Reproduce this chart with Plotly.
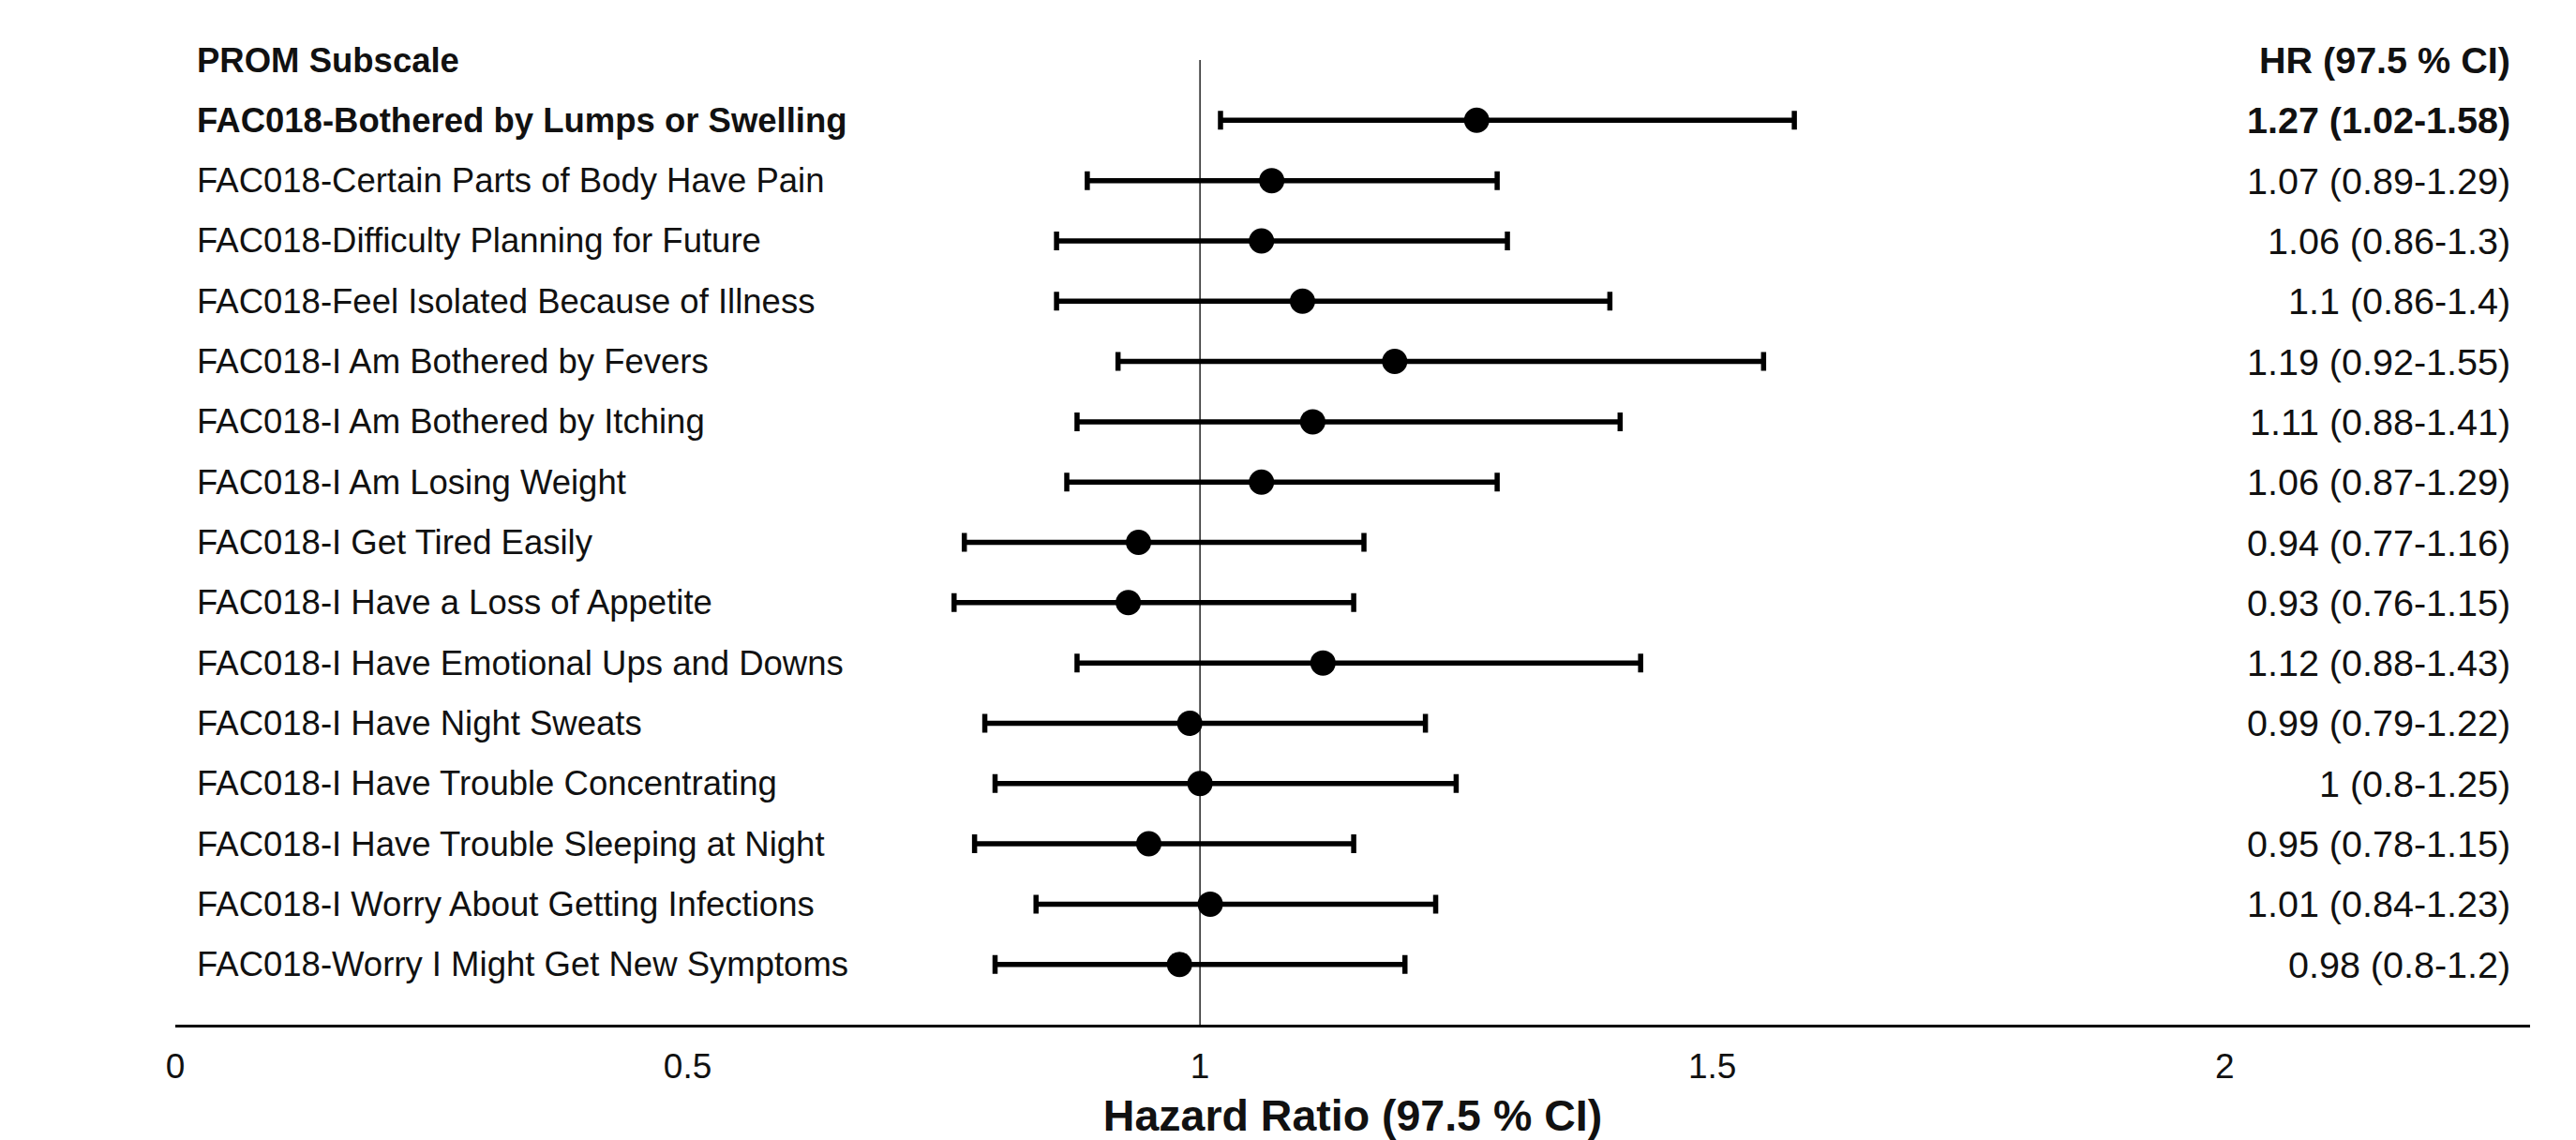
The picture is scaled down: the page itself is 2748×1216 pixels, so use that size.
import plotly.graph_objects as go

labels = [
    "FAC018-Bothered by Lumps or Swelling",
    "FAC018-Certain Parts of Body Have Pain",
    "FAC018-Difficulty Planning for Future",
    "FAC018-Feel Isolated Because of Illness",
    "FAC018-I Am Bothered by Fevers",
    "FAC018-I Am Bothered by Itching",
    "FAC018-I Am Losing Weight",
    "FAC018-I Get Tired Easily",
    "FAC018-I Have a Loss of Appetite",
    "FAC018-I Have Emotional Ups and Downs",
    "FAC018-I Have Night Sweats",
    "FAC018-I Have Trouble Concentrating",
    "FAC018-I Have Trouble Sleeping at Night",
    "FAC018-I Worry About Getting Infections",
    "FAC018-Worry I Might Get New Symptoms",
]
hr = [1.27, 1.07, 1.06, 1.1, 1.19, 1.11, 1.06, 0.94, 0.93, 1.12, 0.99, 1.0, 0.95, 1.01, 0.98]
lo = [1.02, 0.89, 0.86, 0.86, 0.92, 0.88, 0.87, 0.77, 0.76, 0.88, 0.79, 0.8, 0.78, 0.84, 0.8]
hi = [1.58, 1.29, 1.3, 1.4, 1.55, 1.41, 1.29, 1.16, 1.15, 1.43, 1.22, 1.25, 1.15, 1.23, 1.2]
ci_text = [
    "1.27 (1.02-1.58)", "1.07 (0.89-1.29)", "1.06 (0.86-1.3)", "1.1 (0.86-1.4)",
    "1.19 (0.92-1.55)", "1.11 (0.88-1.41)", "1.06 (0.87-1.29)", "0.94 (0.77-1.16)",
    "0.93 (0.76-1.15)", "1.12 (0.88-1.43)", "0.99 (0.79-1.22)", "1 (0.8-1.25)",
    "0.95 (0.78-1.15)", "1.01 (0.84-1.23)", "0.98 (0.8-1.2)",
]
bold_rows = [0]
header_left = "PROM Subscale"
header_right = "HR (97.5 % CI)"
x_ticks = [0, 0.5, 1, 1.5, 2]
x_title = "Hazard Ratio (97.5 % CI)"

FONT = "Liberation Sans, Arial, sans-serif"
TXT = "#111111"

err_plus = [h - m for h, m in zip(hi, hr)]
err_minus = [m - l for m, l in zip(hr, lo)]

fig = go.Figure()
fig.add_trace(go.Scatter(
    x=hr, y=labels, mode="markers",
    marker=dict(symbol="circle", size=27, color="#000000"),
    error_x=dict(type="data", symmetric=False, array=err_plus, arrayminus=err_minus,
                 color="#000000", thickness=5.5, width=10),
    showlegend=False, hoverinfo="skip",
))

fig.add_shape(type="line", xref="x", yref="paper", x0=1, x1=1, y0=0, y1=1,
              line=dict(color="#222222", width=1.5), layer="below")

LSZ = 36.5
RSZ = 39.5
LX = 0.0085
RX = 0.9925
annotations = []
for i, (lab, ct) in enumerate(zip(labels, ci_text)):
    b = i in bold_rows
    annotations.append(dict(xref="paper", yref="y", x=LX, y=lab, text=f"<b>{lab}</b>" if b else lab,
                            xanchor="left", yanchor="middle", showarrow=False,
                            font=dict(family=FONT, size=LSZ, color=TXT)))
    annotations.append(dict(xref="paper", yref="y", x=RX, y=lab, text=f"<b>{ct}</b>" if b else ct,
                            xanchor="right", yanchor="middle", showarrow=False,
                            font=dict(family=FONT, size=RSZ, color=TXT)))
annotations.append(dict(xref="paper", yref="paper", x=LX, y=1, text=f"<b>{header_left}</b>",
                        xanchor="left", yanchor="middle", showarrow=False,
                        font=dict(family=FONT, size=LSZ, color=TXT)))
annotations.append(dict(xref="paper", yref="paper", x=RX, y=1, text=f"<b>{header_right}</b>",
                        xanchor="right", yanchor="middle", showarrow=False,
                        font=dict(family=FONT, size=RSZ, color=TXT)))

fig.update_layout(
    width=2748, height=1216,
    margin=dict(l=179, r=57, t=56, b=131),
    paper_bgcolor="white", plot_bgcolor="white",
    annotations=annotations,
    xaxis=dict(range=[0, 2.298], tickvals=x_ticks, ticktext=[str(t) for t in x_ticks],
               showgrid=False, zeroline=False, showline=True, linecolor="#000000", linewidth=3,
               ticks="", ticklabelstandoff=10, automargin=False,
               tickfont=dict(family=FONT, size=37, color=TXT),
               title=dict(text=f"<b>{x_title}</b>", font=dict(family=FONT, size=46.5, color=TXT), standoff=17)),
    yaxis=dict(type="category", categoryorder="array", categoryarray=labels,
               range=[15, -1], showticklabels=False, showgrid=False, zeroline=False,
               showline=False, ticks="", automargin=False),
)

fig.write_html("out.html")
